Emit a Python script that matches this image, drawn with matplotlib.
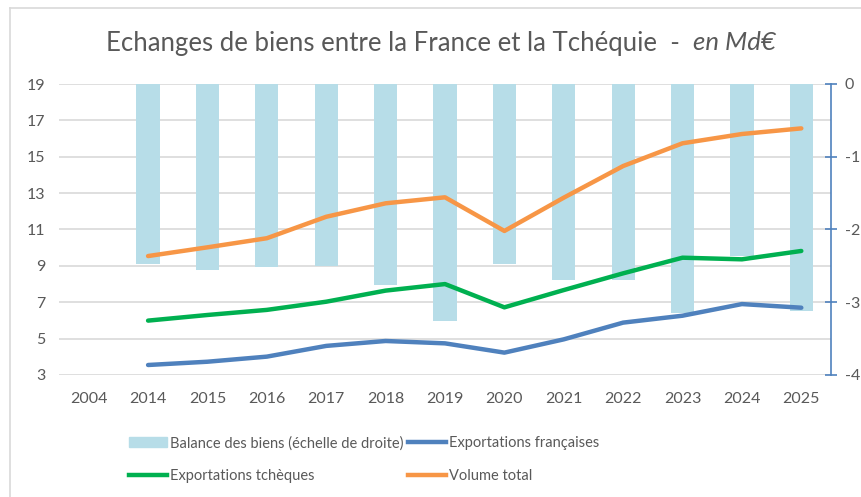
import numpy as np
import matplotlib
matplotlib.use("Agg")
from matplotlib import pyplot as plt
from matplotlib.lines import Line2D
from matplotlib.patches import Patch

plt.rcParams['font.family'] = ['Lato', 'DejaVu Sans']
plt.rcParams['axes.unicode_minus'] = False

years = ['2004', '2014', '2015', '2016', '2017', '2018', '2019',
         '2020', '2021', '2022', '2023', '2024', '2025']
balance = [np.nan, -2.47, -2.56, -2.52, -2.50, -2.76, -3.26,
           -2.47, -2.70, -2.69, -3.15, -2.37, -3.12]
export_fr = [np.nan, 3.55, 3.73, 4.01, 4.60, 4.87, 4.74,
             4.23, 4.96, 5.88, 6.26, 6.90, 6.70]
export_cz = [np.nan, 5.99, 6.30, 6.58, 7.03, 7.64, 8.00,
             6.72, 7.67, 8.59, 9.45, 9.36, 9.82]
volume = [np.nan, 9.54, 10.02, 10.52, 11.70, 12.44, 12.77,
          10.92, 12.75, 14.49, 15.74, 16.25, 16.56]

c_bar = '#B7DDE8'
c_fr = '#4F81BD'
c_cz = '#00B050'
c_vol = '#F79646'
c_txt = '#595959'
c_grid = '#D9D9D9'

x = np.arange(len(years))

fig = plt.figure(figsize=(8.62, 4.97), dpi=100)
ax = fig.add_axes([59/862, 1-375/497, (831-59)/862, (375-84)/497])
ax2 = ax.twinx()

# bars on the right axis, drawn behind the lines
ax2.bar(x, balance, width=0.39, color=c_bar, zorder=1)
ax2.set_ylim(-4, 0)
ax2.set_yticks([0, -1, -2, -3, -4])
ax2.tick_params(axis='y', colors=c_txt, labelsize=11.5, length=8, width=1.2,
                direction='inout', pad=6)
ax2.tick_params(axis='y', color=c_fr)
for s in ['top', 'left', 'bottom']:
    ax2.spines[s].set_visible(False)
ax2.spines['right'].set_color(c_fr)
ax2.spines['right'].set_linewidth(1.2)

ax.set_zorder(ax2.get_zorder() + 1)
ax.patch.set_visible(False)
ax.plot(x, export_fr, color=c_fr, lw=3.2, solid_capstyle='round')
ax.plot(x, export_cz, color=c_cz, lw=3.2, solid_capstyle='round')
ax.plot(x, volume, color=c_vol, lw=3.2, solid_capstyle='round')
ax.set_ylim(3, 19)
ax.set_yticks(range(3, 20, 2))
ax.set_xlim(-0.5, len(years) - 0.5)
ax.set_xticks(x)
ax.set_xticklabels(years)
ax.tick_params(axis='both', colors=c_txt, labelsize=11.5, length=0)
ax.tick_params(axis='y', pad=10)
ax.tick_params(axis='x', pad=12)
for s in ['top', 'left', 'right', 'bottom']:
    ax.spines[s].set_visible(False)

# gridlines drawn in the bar axes so they sit under the bars
for v in range(3, 20, 2):
    ax2.axhline(-4 + (v - 3) / 4, color=c_grid, lw=1.2, zorder=0)

# title in two styles
t1 = fig.text(106/862, 1-43/497, 'Echanges de biens entre la France et la Tchéquie  -  ',
              fontsize=18.5, color=c_txt, ha='left', va='center')
fig.canvas.draw()
bb = t1.get_window_extent()
fig.text(bb.x1/862, 1-43/497, 'en Md€', fontsize=18.5, color=c_txt,
         style='italic', ha='left', va='center')

# frame lines of the chart area
fig.add_artist(Line2D([10/862, 10/862], [0, 1-8/497], color=c_grid, lw=1.2))
fig.add_artist(Line2D([10/862, 1], [1-8/497, 1-8/497], color=c_grid, lw=1.2))

# legend filled column by column
handles = [Patch(color=c_bar),
           Line2D([], [], color=c_cz, lw=3.2),
           Line2D([], [], color=c_fr, lw=3.2),
           Line2D([], [], color=c_vol, lw=3.2)]
labels = ['Balance des biens (échelle de droite)', 'Exportations tchèques',
          'Exportations françaises', 'Volume total']
leg = fig.legend(handles, labels, ncol=2, loc='upper left',
                 bbox_to_anchor=(116/862, 1-423/497), frameon=False,
                 fontsize=10.5, labelcolor=c_txt, handlelength=2.6,
                 handletextpad=0.2, columnspacing=0.3, labelspacing=1.25,
                 handleheight=0.7)

fig.savefig('out.png', dpi=100)
